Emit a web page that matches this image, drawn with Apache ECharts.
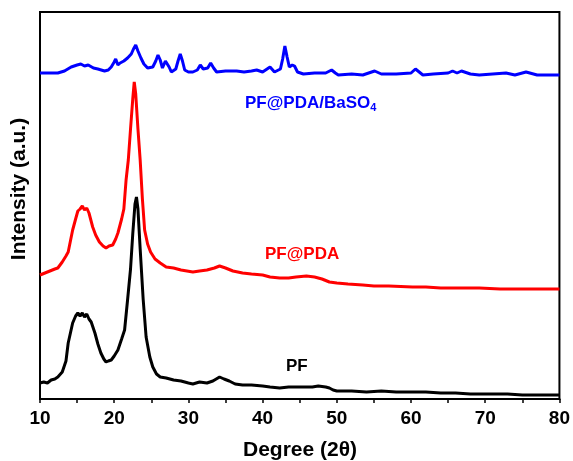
<!DOCTYPE html>
<html>
<head>
<meta charset="utf-8">
<script src="https://cdn.jsdelivr.net/npm/echarts@6/dist/echarts.min.js"></script>
<style>html,body{margin:0;padding:0;background:#fff}#c{width:573px;height:461px}</style>
</head>
<body>
<div id="c"></div>
<script>
// 2θ (degrees) and intensity (a.u.)
var pfAngle = [10,10.5,11,11.5,12,12.4,13,13.5,13.8,14.1,14.4,14.8,15.1,15.4,15.7,16.0,16.3,16.6,16.9,17.4,17.8,18.2,18.6,18.9,19.2,19.6,20.0,20.5,21.0,21.4,21.8,22.2,22.5,22.8,23.0,23.2,23.5,23.9,24.3,24.8,25.2,25.7,26.2,27,28,29,30,30.6,31.5,32.5,33.3,34.2,34.8,35.5,36.3,37.3,38.5,40,41,42.3,43.5,44.5,45.5,46.7,47.5,48.5,49,49.5,50,52,54,56,58,60.2,62,64,66,68,69.2,71,73,75,77,79,80];
var pfInt   = [16,17,16,19,20,22,27,38,56,66,76,83,86,83,86,82,85,80,77,66,55,46,40,37,38,39,43,49,60,69,99,130,165,195,202,190,150,100,62,42,32,25,22,21,19,18,16,15,17,16,18,22,20,18,15,14,14,13,12,11,12,12,12,12,13,12,11,9,8,8,7,8,7,7,7,6,6,5,5,5,5,4,4,4,4];

var pdaAngle = [10,11,12,12.4,13,13.5,13.8,14.1,14.4,14.8,15.1,15.4,15.7,16.0,16.3,16.6,17.1,17.5,18.0,18.5,18.9,19.3,19.8,20.2,20.5,21.0,21.3,21.6,21.9,22.2,22.5,22.7,22.9,23.2,23.5,23.8,24.1,24.5,24.9,25.5,26.2,27,28,29,30.6,31.5,32.5,33.5,34.2,35,36,37.3,38.5,40,41,42.3,43.5,44.5,45.9,47,48,49,50,51.5,53.5,55,57,60.2,62,64,66,69.2,72,75,78,80];
var pdaInt   = [124,127,130,131,137,143,147,158,169,180,188,190,193,189,191,186,172,164,157,153,151,153,154,160,166,180,190,219,239,270,300,317,305,270,239,200,169,155,147,140,136,132,131,129,127,128,129,131,133,131,128,126,125,124,122,121,121,122,123,122,120,117,116,115,114,113,113,112,112,111,111,111,110,110,110,110];

var basAngle = [10,11,12.4,13.3,14.2,15,15.5,16,16.5,17.2,17.8,18.7,19.2,19.6,20.0,20.2,20.5,20.8,21.3,21.8,22.3,22.6,22.9,23.2,23.6,24.0,24.5,25.2,25.6,25.9,26.2,26.5,26.9,27.05,27.4,27.7,28.3,28.6,28.9,29.2,29.5,30,30.6,31.2,31.6,32.0,32.2,32.6,33.0,33.4,33.8,35,36.5,37.5,38.5,39.2,40,41.0,41.6,42.4,42.7,43.0,43.3,43.6,44.0,44.3,44.7,45.5,47,48.5,49.3,49.8,50.2,52,53.5,55.1,56,58,60.0,60.6,61.6,63,65.0,65.6,66.2,66.8,68,69.2,71,72.8,74,75.5,77,78.2,80];
var basInt   = [326,326,326,328,332,334,335,333,334,331,330,328,329,332,337,340,334,336,338,341,345,350,354,348,341,335,331,332,338,344,339,331,338,339,332,327,330,338,345,338,329,327,327,329,334,330,328,331,336,331,327,328,328,327,328,329,327,332,327,330,340,353,342,332,334,333,327,325,326,326,329,326,324,325,324,328,325,325,326,330,324,325,326,328,326,328,325,324,325,326,324,327,324,324,324];

var xTicks = [10,20,30,40,50,60,70,80];

function pairs(a, b){ var out=[]; for (var i=0;i<a.length;i++) out.push([a[i], b[i]]); return out; }

var chart = echarts.init(document.getElementById('c'), null, {renderer:'canvas'});
var fam = 'Liberation Sans, Arial, sans-serif';
chart.setOption({
  animation:false,
  backgroundColor:'#fff',
  grid:{left:40, right:13, top:12, bottom:62, show:true, borderColor:'#000', borderWidth:2, backgroundColor:'transparent'},
  xAxis:{type:'value', min:10, max:80, interval:5,
    axisLine:{show:true, onZero:false, lineStyle:{color:'#000', width:2}},
    axisTick:{show:true, inside:false, length:4, lineStyle:{color:'#000', width:1.5}},
    axisLabel:{margin:10, color:'#000', fontSize:19, fontWeight:'bold', fontFamily:fam,
      formatter:function(v){ return xTicks.indexOf(v)>=0 ? String(v) : ''; }},
    splitLine:{show:false}},
  yAxis:{type:'value', min:0, max:387,
    axisLine:{show:true, lineStyle:{color:'#000', width:2}},
    axisTick:{show:false}, axisLabel:{show:false}, splitLine:{show:false}},
  series:[
    {type:'line', data:pairs(pfAngle,pfInt), showSymbol:false, lineStyle:{color:'#000', width:3}, itemStyle:{color:'#000'}},
    {type:'line', data:pairs(pdaAngle,pdaInt), showSymbol:false, lineStyle:{color:'#ff0000', width:3}, itemStyle:{color:'#ff0000'}},
    {type:'line', data:pairs(basAngle,basInt), showSymbol:false, lineStyle:{color:'#0000ff', width:3}, itemStyle:{color:'#0000ff'}}
  ],
  graphic:[
    {type:'text', x:300, y:450, style:{text:'Degree (2θ)', fill:'#000', font:'bold 21px '+fam, textAlign:'center', textVerticalAlign:'middle'}},
    {type:'text', x:19, y:189, rotation:Math.PI/2, style:{text:'Intensity (a.u.)', fill:'#000', font:'bold 21px '+fam, textAlign:'center', textVerticalAlign:'middle'}},
    {type:'text', x:245, y:103, style:{text:'{m|PF@PDA/BaSO}{s|4}', fill:'#0000ff', textVerticalAlign:'middle',
      rich:{m:{fontSize:17, fontWeight:'bold', fontFamily:fam, color:'#0000ff'}, s:{fontSize:11, fontWeight:'bold', fontFamily:fam, color:'#0000ff', verticalAlign:'bottom', padding:[10,0,0,0]}}}},
    {type:'text', x:265, y:254, style:{text:'PF@PDA', fill:'#ff0000', font:'bold 17px '+fam, textVerticalAlign:'middle'}},
    {type:'text', x:286, y:366, style:{text:'PF', fill:'#000', font:'bold 17px '+fam, textVerticalAlign:'middle'}}
  ]
});
</script>
</body>
</html>
